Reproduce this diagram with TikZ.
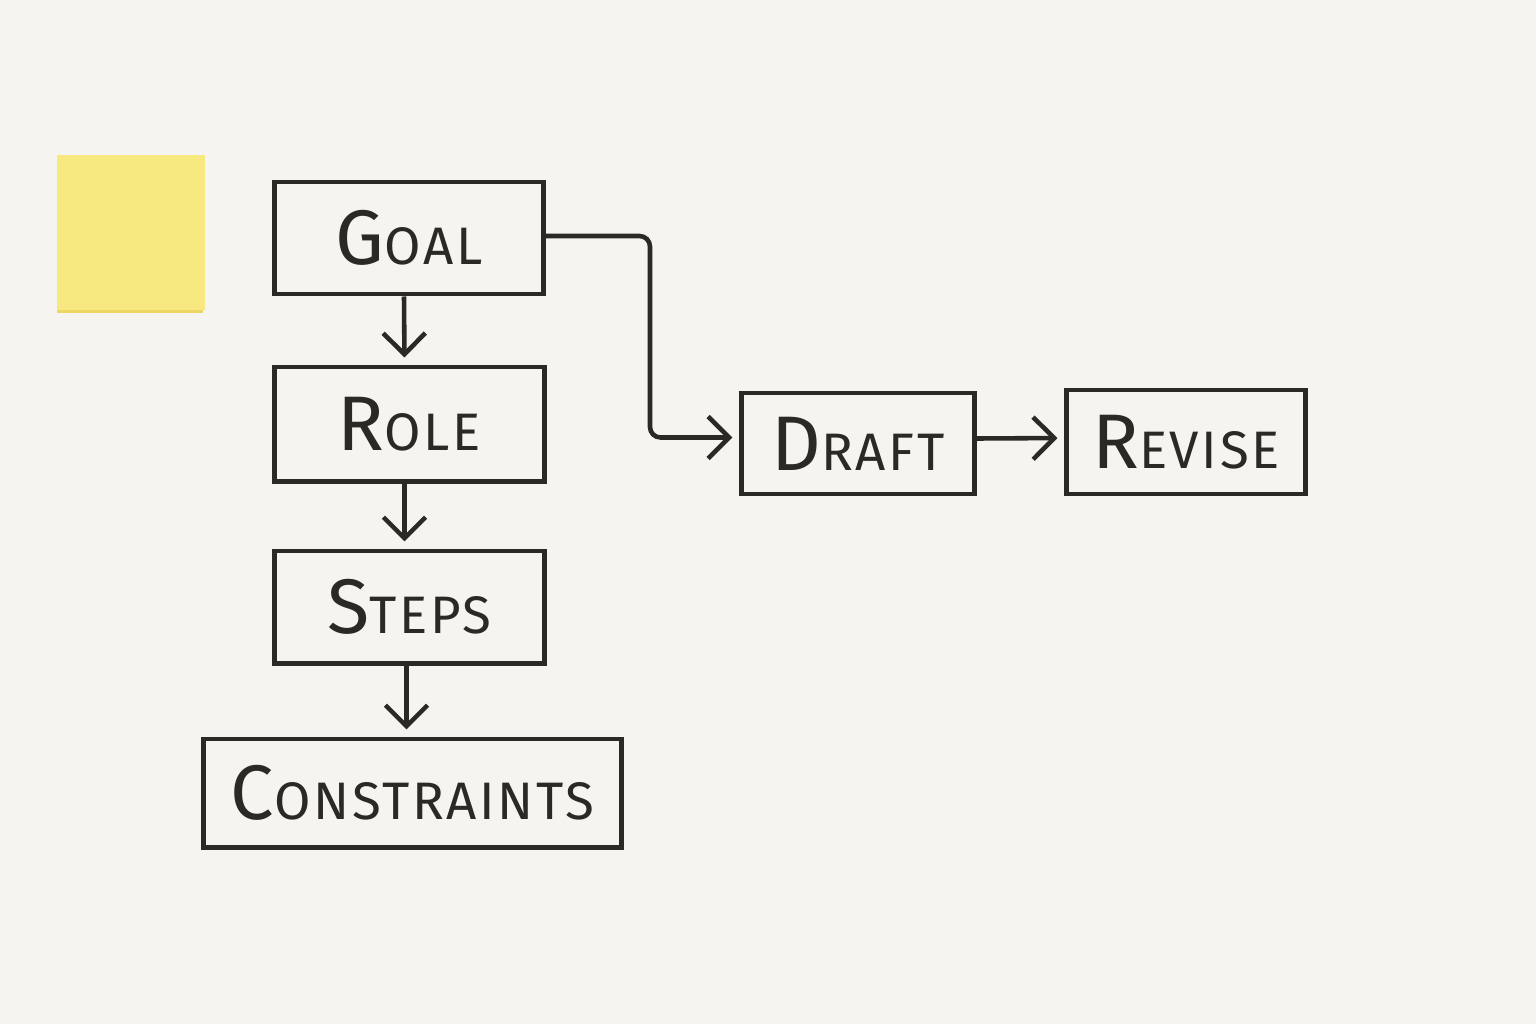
\documentclass[tikz,border=0pt]{standalone}
\usepackage{fontspec}
\setmainfont{Fira Sans}
\usetikzlibrary{arrows.meta,calc}
\definecolor{bg}{RGB}{245,244,240}
\definecolor{ink}{RGB}{43,40,37}
\definecolor{note}{RGB}{248,232,128}
\definecolor{noteedge}{RGB}{236,214,100}
\newcommand{\hw}[2]{{\addfontfeatures{LetterSpace=5}\fontsize{22}{22}\selectfont #1\fontsize{15}{15}\selectfont #2}}
\begin{document}
\begin{tikzpicture}[x=0.01cm,y=-0.01cm,
  box/.style={draw=ink,line width=1.4pt,rectangle,inner sep=0pt,text=ink},
  arr/.style={draw=ink,line width=1.3pt,-{Straight Barb[length=6pt,width=12pt,line width=1.3pt]},shorten >=2pt}]
\useasboundingbox (0,0) rectangle (1536,1024);
\fill[bg] (0,0) rectangle (1536,1024);
\fill[noteedge] (57,157) rectangle (203,313);
\fill[note] (57,155) rectangle (205,310);
\node[box,minimum width=2.68cm,minimum height=1.12cm] (goal) at (409,238) {\hw{G}{OAL}};
\node[box,minimum width=2.69cm,minimum height=1.14cm] (role) at (409.5,424) {\hw{R}{OLE}};
\node[box,minimum width=2.69cm,minimum height=1.12cm] (steps) at (409.5,607) {\hw{S}{TEPS}};
\node[box,minimum width=4.17cm,minimum height=1.08cm] (cons) at (412.5,793) {\hw{C}{ONSTRAINTS}};
\node[box,minimum width=2.32cm,minimum height=1.01cm] (draft) at (858,443.5) {\hw{D}{RAFT}};
\node[box,minimum width=2.38cm,minimum height=1.04cm] (revise) at (1186,442) {\hw{R}{EVISE}};
\draw[arr] ($(goal.south)+(-5,0)$) -- ($(role.north)+(-5,0)$);
\draw[arr] ($(role.south)+(-5,0)$) -- ($(steps.north)+(-5,0)$);
\draw[arr] ($(steps.south)+(-3,0)$) -- ($(cons.north)+(-6,0)$);
\coordinate (bx) at (650,330);
\draw[arr,rounded corners=3pt] ($(goal.east)+(0,-2)$) -| (bx) |- ($(draft.west)+(0,-6)$);
\draw[arr] ($(draft.east)+(0,-5)$) -- ($(revise.west)+(0,-4)$);
\end{tikzpicture}
\end{document}
